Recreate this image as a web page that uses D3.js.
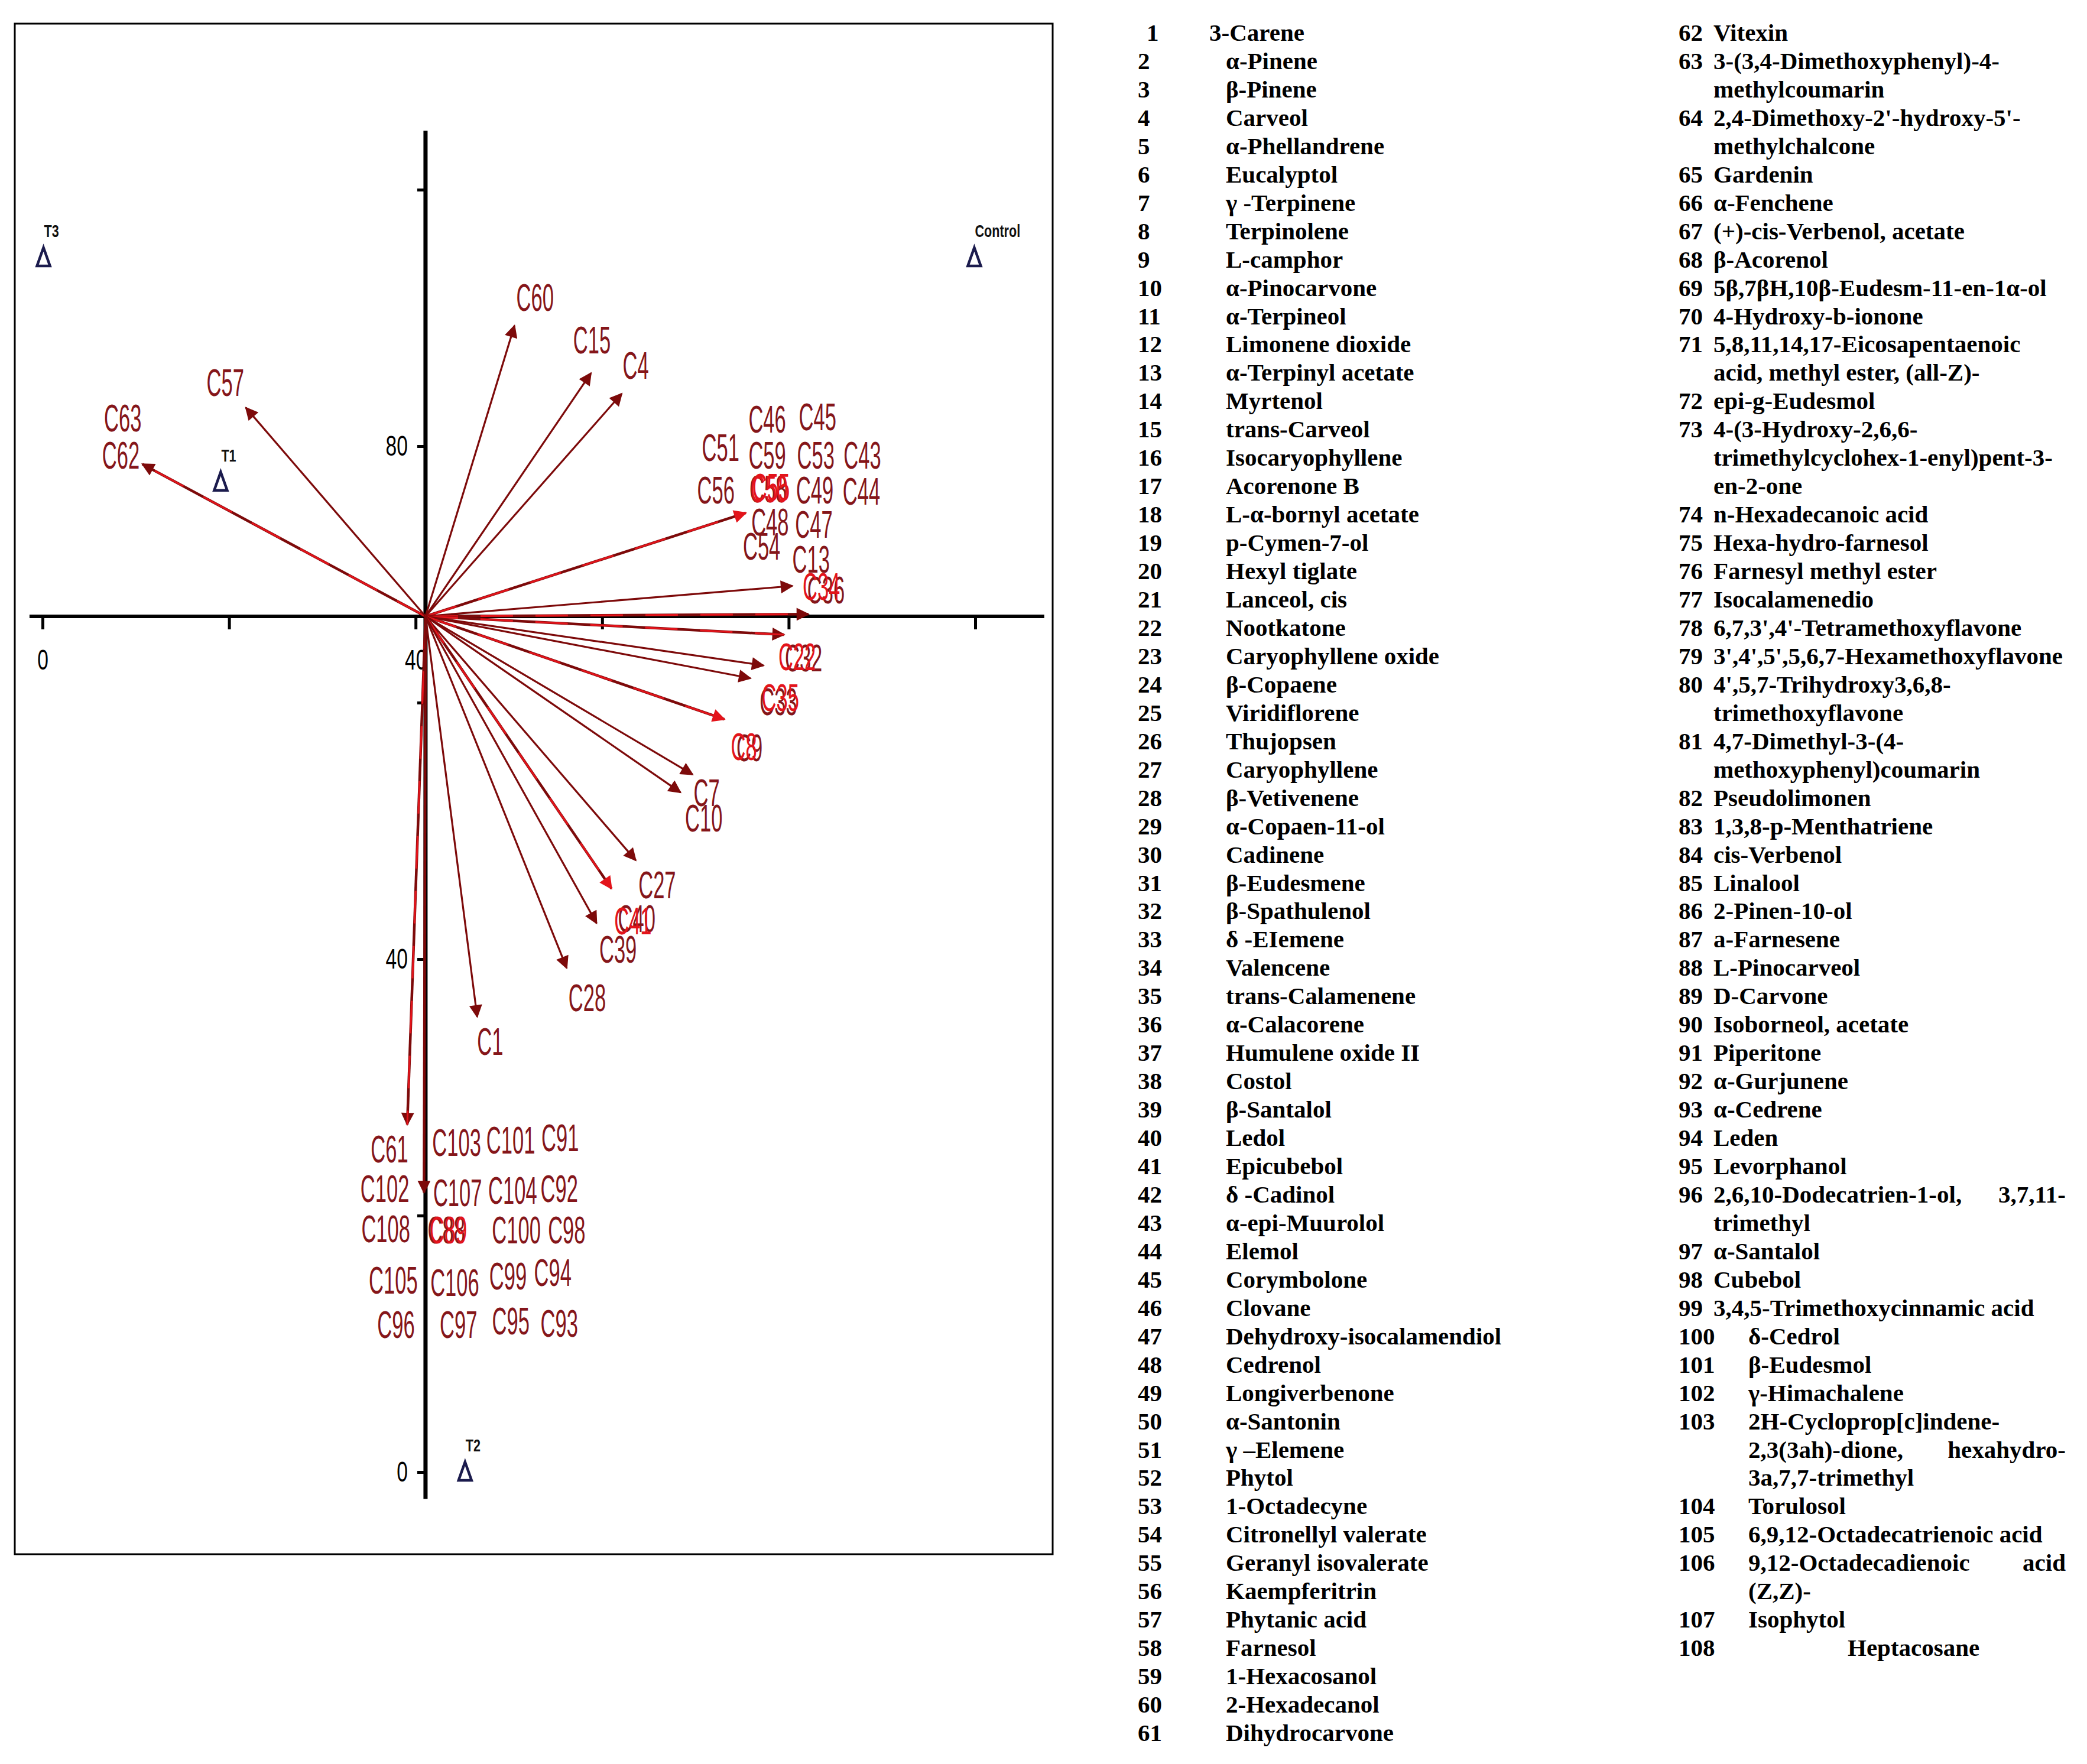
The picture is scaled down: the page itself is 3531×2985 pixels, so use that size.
<!DOCTYPE html>
<html><head><meta charset="utf-8">
<script src="https://cdn.jsdelivr.net/npm/d3@7"></script>
<style>body{margin:0;background:#fff}</style>
</head><body>
<svg id="c" width="3531" height="2985"></svg>
<script>
// ---------------- DATA ----------------
const origin = [41.06, 66.73];           // axis crossing (data units)
const xAxisExtent = [-1.4, 107.4];
const yAxisExtent = [-2.1, 104.6];
const xTickValues = [0, 20, 40, 60, 80, 100];
const xTickLabels = ["0", "", "40", "", "", ""];
const yTickValues = [0, 20, 40, 60, 80, 100];
const yTickLabels = ["0", "", "40", "", "80", ""];

// treatments (triangles)
const groupNames = ["T3", "Control", "T1", "T2"];
const groupX = [0.1, 99.9, 19.1, 45.3];
const groupY = [94.7, 94.7, 77.2, 0.0];

// arrows (compound loadings), tips in data units
const arrowNames = ["C62/C63","C57","C60","C15","C4","C43-C59","C13","C35/C36","C22/C32","C33","C34",
  "C8/C9","C7","C10","C27","C38/C40/C41","C39","C28","C1","C61","C64-C108"];
const arrowX = [10.7, 21.8, 50.6, 58.8, 62.1, 75.4, 80.4, 82.1, 79.5, 77.3, 75.9,
  73.1, 69.7, 68.4, 63.6, 61.0, 59.4, 56.2, 46.6, 39.1, 40.9];
const arrowY = [78.6, 83.0, 89.4, 85.7, 84.1, 74.8, 69.1, 66.9, 65.3, 62.9, 61.9,
  58.7, 54.4, 53.0, 47.7, 45.5, 42.8, 39.3, 35.5, 27.1, 21.8];
const arrowCount = [2, 1, 1, 1, 1, 16, 1, 3, 3, 1, 1, 4, 1, 1, 1, 4, 1, 1, 1, 2, 20];

// compound labels
const labelText = ["C63","C62","C57","C60","C15","C4","C46","C45","C51","C59","C53","C43","C56","C58","C49","C44",
  "C48","C47","C54","C13","C36","C32","C33","C9","C7","C10","C27","C40","C39","C28","C1",
  "C61","C103","C101","C91","C102","C107","C104","C92","C108","C88","C100","C98",
  "C105","C106","C99","C94","C96","C97","C95","C93"];
const labelX = [8.6, 8.4, 19.6, 52.8, 58.9, 63.6, 77.7, 83.1, 72.7, 77.7, 82.9, 87.9, 72.2, 77.8, 82.8, 87.8,
  78.0, 82.7, 77.1, 82.4, 84.0, 81.6, 78.9, 75.8, 71.2, 70.9, 65.9, 63.7, 61.7, 58.4, 48.0,
  37.2, 44.4, 50.2, 55.5, 36.7, 44.5, 50.4, 55.4, 36.8, 43.3, 50.8, 56.2,
  37.6, 44.2, 49.9, 54.7, 37.9, 44.6, 50.2, 55.4];
const labelY = [82.2, 79.3, 85.0, 91.6, 88.3, 86.3, 82.1, 82.3, 79.9, 79.3, 79.3, 79.3, 76.6, 76.7, 76.6, 76.5,
  74.1, 73.9, 72.2, 71.2, 68.8, 63.5, 60.1, 56.5, 53.0, 51.0, 45.8, 43.2, 40.8, 37.0, 33.6,
  25.2, 25.7, 25.9, 26.1, 22.1, 21.8, 22.0, 22.1, 19.0, 18.9, 18.9, 18.9,
  15.0, 14.8, 15.3, 15.6, 11.5, 11.5, 11.8, 11.6];
// overprinted labels (drawn on top, as in the original)
const overText = ["C50","C55","C22","C35","C8","C34","C41","C89"];
const overX = [77.9, 78.1, 80.9, 79.1, 75.2, 83.5, 63.3, 43.5];
const overY = [76.7, 76.8, 63.6, 60.4, 56.6, 69.1, 43.0, 18.9];

// legend
const legendCol1 = ["3-Carene","α-Pinene","β-Pinene","Carveol","α-Phellandrene","Eucalyptol","γ -Terpinene",
  "Terpinolene","L-camphor","α-Pinocarvone","α-Terpineol","Limonene dioxide","α-Terpinyl acetate","Myrtenol",
  "trans-Carveol","Isocaryophyllene","Acorenone B","L-α-bornyl acetate","p-Cymen-7-ol","Hexyl tiglate",
  "Lanceol, cis","Nootkatone","Caryophyllene oxide","β-Copaene","Viridiflorene","Thujopsen","Caryophyllene",
  "β-Vetivenene","α-Copaen-11-ol","Cadinene","β-Eudesmene","β-Spathulenol","δ -EIemene","Valencene",
  "trans-Calamenene","α-Calacorene","Humulene oxide II","Costol","β-Santalol","Ledol","Epicubebol",
  "δ -Cadinol","α-epi-Muurolol","Elemol","Corymbolone","Clovane","Dehydroxy-isocalamendiol","Cedrenol",
  "Longiverbenone","α-Santonin","γ –Elemene","Phytol","1-Octadecyne","Citronellyl valerate",
  "Geranyl isovalerate","Kaempferitrin","Phytanic acid","Farnesol","1-Hexacosanol","2-Hexadecanol","Dihydrocarvone"];
const legendCol2 = ["Vitexin","3-(3,4-Dimethoxyphenyl)-4-|methylcoumarin","2,4-Dimethoxy-2'-hydroxy-5'-|methylchalcone",
  "Gardenin","α-Fenchene","(+)-cis-Verbenol, acetate","β-Acorenol","5β,7βH,10β-Eudesm-11-en-1α-ol",
  "4-Hydroxy-b-ionone","5,8,11,14,17-Eicosapentaenoic|acid, methyl ester, (all-Z)-","epi-g-Eudesmol",
  "4-(3-Hydroxy-2,6,6-|trimethylcyclohex-1-enyl)pent-3-|en-2-one","n-Hexadecanoic acid","Hexa-hydro-farnesol",
  "Farnesyl methyl ester","Isocalamenedio","6,7,3',4'-Tetramethoxyflavone","3',4',5',5,6,7-Hexamethoxyflavone",
  "4',5,7-Trihydroxy3,6,8-|trimethoxyflavone","4,7-Dimethyl-3-(4-|methoxyphenyl)coumarin","Pseudolimonen",
  "1,3,8-p-Menthatriene","cis-Verbenol","Linalool","2-Pinen-10-ol","a-Farnesene","L-Pinocarveol","D-Carvone",
  "Isoborneol, acetate","Piperitone","α-Gurjunene","α-Cedrene","Leden","Levorphanol",
  "2,6,10-Dodecatrien-1-ol,\t3,7,11-|trimethyl","α-Santalol","Cubebol","3,4,5-Trimethoxycinnamic acid",
  "δ-Cedrol","β-Eudesmol","γ-Himachalene","2H-Cycloprop[c]indene-|2,3(3ah)-dione,\thexahydro-|3a,7,7-trimethyl",
  "Torulosol","6,9,12-Octadecatrienoic acid","9,12-Octadecadienoic\tacid|(Z,Z)-","Isophytol","Heptacosane"];

// ---------------- DRAWING ----------------
const W = 3531, H = 2985;
const svg = d3.select("#c");
svg.append("rect").attr("width", W).attr("height", H).attr("fill", "#fff");

const x = d3.scaleLinear().domain([0, 100]).range([72, 1650]);
const y = d3.scaleLinear().domain([0, 100]).range([2491, 321]);
const sans = "'Liberation Sans', Arial, sans-serif";
const serif = "'Liberation Serif', 'Times New Roman', serif";
const DARK = "#7d0a0a", RED = "#e3141b", LABEL = "#85161a", NAVY = "#1b1b4d";

// frame
svg.append("rect").attr("x", 25).attr("y", 40).attr("width", 1756).attr("height", 2590)
  .attr("fill", "none").attr("stroke", "#000").attr("stroke-width", 3);

const ox = x(origin[0]), oy = y(origin[1]);

// axes
const gx = svg.append("g").attr("transform", `translate(0,${oy})`)
  .call(d3.axisBottom(x).tickValues(xTickValues)
    .tickFormat(d => xTickLabels[xTickValues.indexOf(d)]).tickSize(22).tickPadding(34).tickSizeOuter(0));
gx.select(".domain").remove();
gx.selectAll(".tick line").attr("stroke", "#000").attr("stroke-width", 5);
gx.selectAll(".tick text").attr("font-family", sans).attr("font-size", 48).attr("fill", "#000")
  .attr("transform", "scale(0.7,1)");

const gy = svg.append("g").attr("transform", `translate(${ox},0)`)
  .call(d3.axisLeft(y).tickValues(yTickValues)
    .tickFormat(d => yTickLabels[yTickValues.indexOf(d)]).tickSize(14).tickPadding(16).tickSizeOuter(0));
gy.select(".domain").remove();
gy.selectAll(".tick line").attr("stroke", "#000").attr("stroke-width", 5);
gy.selectAll(".tick text").attr("font-family", sans).attr("font-size", 48).attr("fill", "#000")
  .attr("x", -30 / 0.7).attr("transform", "scale(0.7,1)");

svg.append("line").attr("x1", x(xAxisExtent[0])).attr("x2", x(xAxisExtent[1]))
  .attr("y1", oy).attr("y2", oy).attr("stroke", "#000").attr("stroke-width", 6);
svg.append("line").attr("x1", ox).attr("x2", ox)
  .attr("y1", y(yAxisExtent[1])).attr("y2", y(yAxisExtent[0])).attr("stroke", "#000").attr("stroke-width", 7);

// arrow markers
const defs = svg.append("defs");
function marker(id, color) {
  defs.append("marker").attr("id", id).attr("viewBox", "0 0 10 10").attr("refX", 9).attr("refY", 5)
    .attr("markerUnits", "userSpaceOnUse").attr("markerWidth", 30).attr("markerHeight", 22)
    .attr("orient", "auto").append("path").attr("d", "M0,0L10,5L0,10z").attr("fill", color);
}
marker("hd", DARK); marker("hr", RED);

const striped = new Set(["C62/C63","C43-C59","C35/C36","C22/C32","C8/C9","C38/C40/C41","C61"]);
const arrows = arrowNames.map((n, i) => ({ n, ax: arrowX[i], ay: arrowY[i], c: arrowCount[i] }));
const ga = svg.append("g");
arrows.forEach(a => {
  const redHead = a.c >= 4 && striped.has(a.n);
  ga.append("line").attr("x1", ox).attr("y1", oy).attr("x2", x(a.ax)).attr("y2", y(a.ay))
    .attr("stroke", DARK).attr("stroke-width", a.c > 1 ? 4.5 : 3.2)
    .attr("marker-end", `url(#${redHead ? "hr" : "hd"})`);
  if (striped.has(a.n)) {
    ga.append("line").attr("x1", ox).attr("y1", oy).attr("x2", x(a.ax)).attr("y2", y(a.ay))
      .attr("stroke", RED).attr("stroke-width", 3).attr("stroke-dasharray", "55 38");
  }
});

// labels
function drawLabels(texts, xs, ys, color) {
  svg.append("g").selectAll("text").data(texts).join("text")
    .attr("transform", (d, i) => `translate(${x(xs[i])},${y(ys[i])}) scale(0.54,1)`)
    .attr("text-anchor", "middle").attr("dy", "0.36em")
    .attr("font-family", sans).attr("font-size", 64).attr("fill", color)
    .text(d => d);
}
drawLabels(labelText, labelX, labelY, LABEL);
drawLabels(overText, overX, overY, RED);

// treatment triangles
const gt = svg.append("g");
groupNames.forEach((g, i) => {
  const tx = x(groupX[i]), ty = y(groupY[i]);
  gt.append("path").attr("d", "M0,-17L11,14L-11,14Z").attr("transform", `translate(${tx},${ty})`)
    .attr("fill", "none").attr("stroke", NAVY).attr("stroke-width", 4.5).attr("stroke-linejoin", "miter");
  gt.append("text").attr("transform", `translate(${tx + 1},${ty - 35}) scale(0.72,1)`)
    .attr("font-family", sans).attr("font-weight", "bold").attr("font-size", 30).attr("fill", "#111")
    .text(g);
});

// legend
const lineH = 47.95, top0 = 69, rightEdge = 3495;
const gl = svg.append("g").attr("font-family", serif).attr("font-weight", "bold")
  .attr("font-size", 41).attr("fill", "#000");
function writeLines(name, nameX, startLine) {
  const lines = name.split("|");
  lines.forEach((ln, k) => {
    const yy = top0 + (startLine + k) * lineH;
    const parts = ln.split("\t");
    gl.append("text").attr("x", nameX).attr("y", yy).text(parts[0]);
    if (parts.length > 1) gl.append("text").attr("x", rightEdge).attr("y", yy)
      .attr("text-anchor", "end").text(parts[1]);
  });
  return lines.length;
}
legendCol1.forEach((name, i) => {
  const n = i + 1;
  gl.append("text").attr("x", n === 1 ? 1940 : 1925).attr("y", top0 + i * lineH).text(n);
  writeLines(name, n === 1 ? 2046 : 2074, i);
});
let line = 0;
legendCol2.forEach((name, i) => {
  const n = 62 + i;
  gl.append("text").attr("x", 2840).attr("y", top0 + line * lineH).text(n);
  const nx = n < 100 ? 2899 : (n < 108 ? 2958 : 3126);
  line += writeLines(name, nx, line);
});
</script>
</body></html>
